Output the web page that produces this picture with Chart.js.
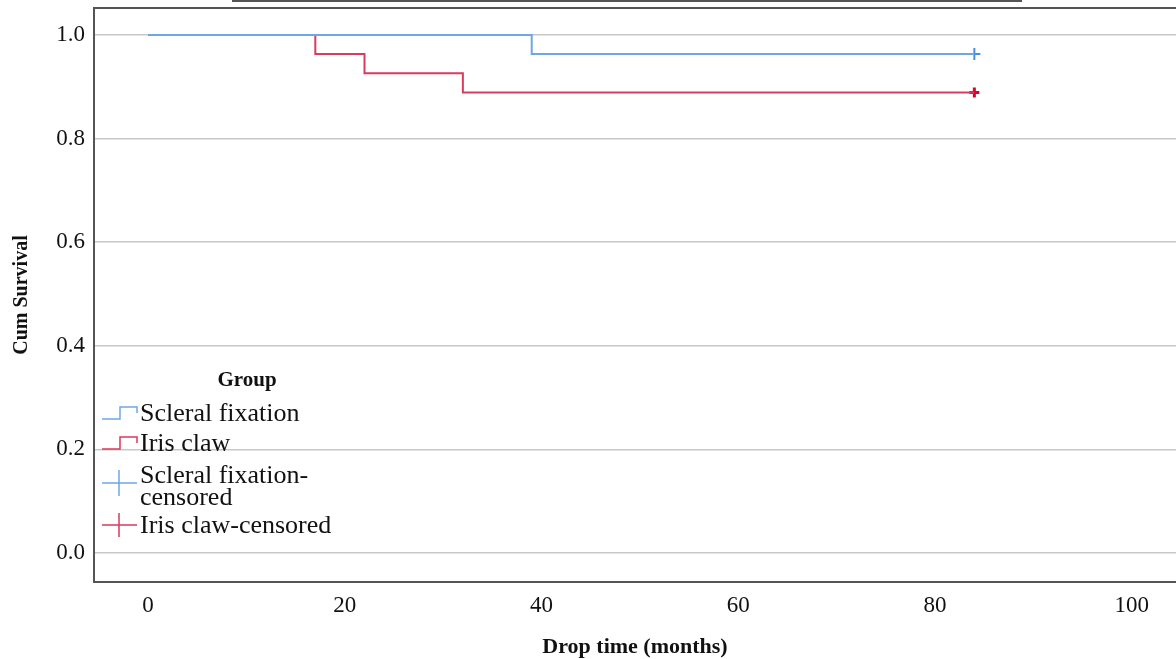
<!DOCTYPE html>
<html>
  <head>
    <title>Cum Survival</title>
    <script src="https://cdn.jsdelivr.net/npm/chart.js"></script>
    <style>
      html, body {
        margin: 0;
        background: #fff;
        overflow: hidden;
      }
      #chart-container {
        position: relative;
        width: 1176px;
        height: 659px;
      }
      #kmChart {
        display: block;
      }
      #top-rule {
        position: absolute;
        left: 232px;
        top: 0;
        width: 790px;
        height: 2px;
        background: #555;
      }
    </style>
  </head>
  <body>
    <div id="chart-container">
      <canvas id="kmChart" width="1176" height="659"></canvas>
      <div id="top-rule"></div>
    </div>
    <script>
      const groupNames = ["Scleral fixation", "Iris claw"];
      const legendLabels = [
        "Scleral fixation",
        "Iris claw",
        "Scleral fixation-\ncensored",
        "Iris claw-censored",
      ];
      const scleralTime = [0, 39, 84];
      const scleralSurv = [1.0, 0.963, 0.963];
      const irisTime = [0, 17, 22, 32, 84];
      const irisSurv = [1.0, 0.963, 0.926, 0.889, 0.889];
      const scleralCensTime = [84];
      const scleralCensSurv = [0.963];
      const irisCensTime = [84];
      const irisCensSurv = [0.889];
      const xTicks = [0, 20, 40, 60, 80, 100];
      const yTicks = [0, 0.2, 0.4, 0.6, 0.8, 1.0];

      const blue = "#6ea6e6";
      const red = "#d93a5e";
      const serif = "'Liberation Serif', 'Times New Roman', serif";

      const toPoints = (xs, ys) => xs.map((x, i) => ({ x: x, y: ys[i] }));

      // frame + SPSS style legend drawn on the canvas
      const extras = {
        id: "extras",
        afterDraw(chart) {
          const ctx = chart.ctx;
          const a = chart.chartArea;
          ctx.save();
          ctx.strokeStyle = "#555";
          ctx.lineWidth = 2;
          ctx.beginPath();
          ctx.moveTo(chart.width + 2, a.top);
          ctx.lineTo(a.left, a.top);
          ctx.lineTo(a.left, a.bottom);
          ctx.lineTo(chart.width + 2, a.bottom);
          ctx.stroke();

          ctx.fillStyle = "#111";
          ctx.font = "bold 21px " + serif;
          ctx.textAlign = "center";
          ctx.textBaseline = "middle";
          ctx.fillText("Group", 247, 381);

          ctx.textAlign = "left";
          ctx.font = "26px " + serif;
          ctx.lineWidth = 1.5;

          // step icons
          [blue, red].forEach((c, i) => {
            const y0 = 419 + 30 * i;
            ctx.strokeStyle = c;
            ctx.beginPath();
            ctx.moveTo(102, y0);
            ctx.lineTo(120, y0);
            ctx.lineTo(120, y0 - 12);
            ctx.lineTo(137, y0 - 12);
            ctx.lineTo(137, y0 - 6);
            ctx.stroke();
          });
          ctx.fillText(legendLabels[0], 140, 414);
          ctx.fillText(legendLabels[1], 140, 444);

          // censor icons
          const crosses = [
            [blue, 483, 470, 496],
            [red, 525, 513, 537],
          ];
          crosses.forEach(([c, y, y1, y2]) => {
            ctx.strokeStyle = c;
            ctx.beginPath();
            ctx.moveTo(102, y);
            ctx.lineTo(137, y);
            ctx.moveTo(119, y1);
            ctx.lineTo(119, y2);
            ctx.stroke();
          });
          const parts = legendLabels[2].split("\n");
          ctx.fillText(parts[0], 140, 476);
          ctx.fillText(parts[1], 140, 498);
          ctx.fillText(legendLabels[3], 140, 526);
          ctx.restore();
        },
      };

      const ctx = document.getElementById("kmChart").getContext("2d");
      const kmChart = new Chart(ctx, {
        type: "line",
        data: {
          datasets: [
            {
              label: groupNames[0],
              data: toPoints(scleralTime, scleralSurv),
              borderColor: blue,
              borderWidth: 2,
              stepped: "before",
              pointRadius: 0,
              fill: false,
            },
            {
              label: groupNames[1],
              data: toPoints(irisTime, irisSurv),
              borderColor: red,
              borderWidth: 2,
              stepped: "before",
              pointRadius: 0,
              fill: false,
            },
            {
              label: groupNames[0] + "-censored",
              data: toPoints(scleralCensTime, scleralCensSurv),
              showLine: false,
              pointStyle: "cross",
              pointRadius: 6,
              borderColor: "#4a8ee0",
              borderWidth: 2,
            },
            {
              label: groupNames[1] + "-censored",
              data: toPoints(irisCensTime, irisCensSurv),
              showLine: false,
              pointStyle: "cross",
              pointRadius: 5,
              borderColor: "#e0002c",
              borderWidth: 3,
            },
          ],
        },
        options: {
          responsive: false,
          animation: false,
          layout: {
            autoPadding: false,
            padding: { top: 8, left: 0, right: 0, bottom: 0 },
          },
          plugins: {
            legend: { display: false },
            tooltip: { enabled: false },
          },
          scales: {
            x: {
              type: "linear",
              min: -5.5,
              max: 104.5,
              afterBuildTicks: (s) => {
                s.ticks = xTicks.map((v) => ({ value: v }));
              },
              afterFit: (s) => {
                s.height = 77;
                s.paddingLeft = 0;
                s.paddingRight = 0;
              },
              grid: { display: false, drawTicks: false },
              border: { display: false },
              ticks: {
                padding: 10,
                color: "#111",
                font: { family: serif, size: 23 },
                maxRotation: 0,
              },
              title: {
                display: true,
                text: "Drop time (months)",
                color: "#111",
                font: { family: serif, size: 22, weight: "bold", lineHeight: 1 },
                padding: { top: 0, bottom: 1 },
              },
            },
            y: {
              type: "linear",
              min: -0.056,
              max: 1.052,
              afterBuildTicks: (s) => {
                s.ticks = yTicks.map((v) => ({ value: v }));
              },
              afterFit: (s) => {
                s.width = 94;
                s.paddingTop = 0;
                s.paddingBottom = 0;
              },
              grid: {
                color: "#c8c8c8",
                lineWidth: 1.5,
                drawTicks: false,
              },
              border: { display: false },
              ticks: {
                padding: 9,
                color: "#111",
                font: { family: serif, size: 23 },
                callback: (v) => v.toFixed(1),
              },
              title: {
                display: true,
                text: "Cum Survival",
                color: "#111",
                font: { family: serif, size: 20, weight: "bold" },
                padding: { top: 10, bottom: 4 },
              },
            },
          },
        },
        plugins: [extras],
      });
    </script>
  </body>
</html>
